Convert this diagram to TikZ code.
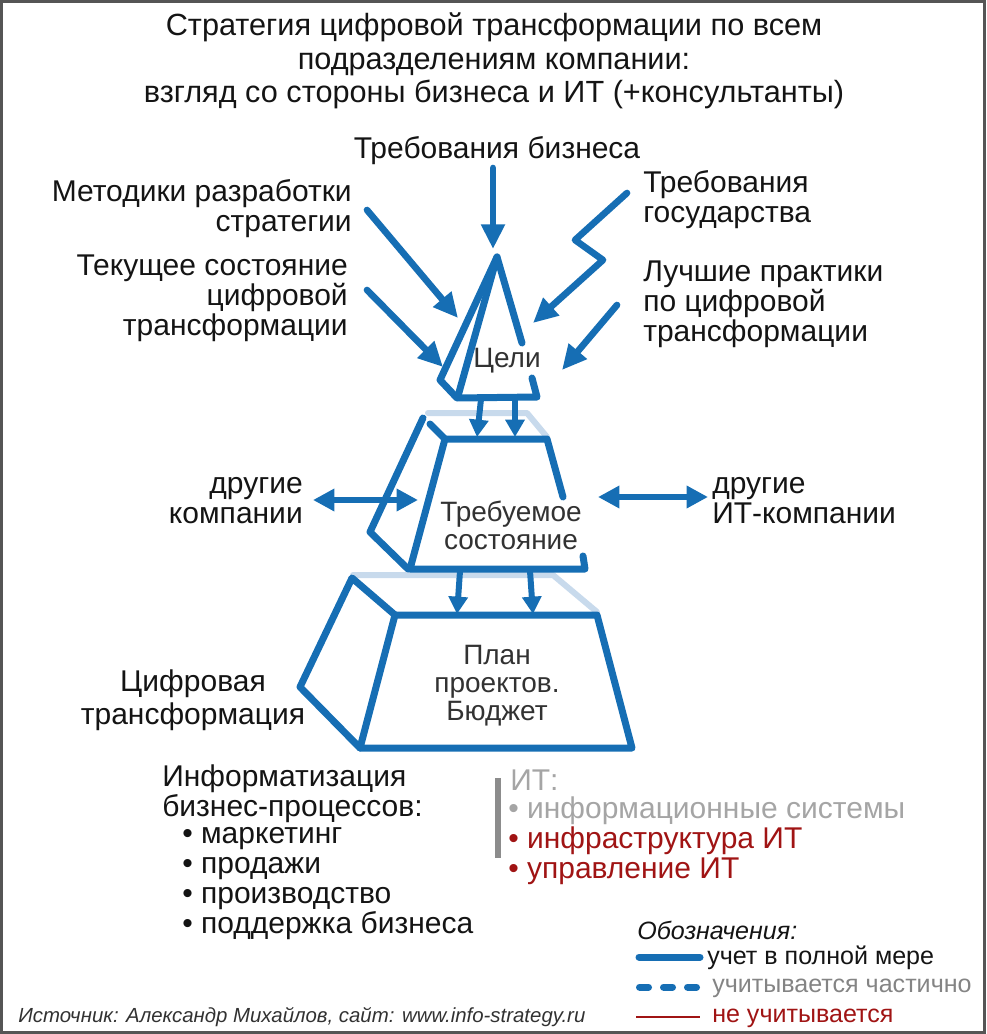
\documentclass[tikz,border=0pt]{standalone}
\usepackage{fontspec}
\setmainfont{Liberation Sans}
\usetikzlibrary{arrows.meta}
\definecolor{bl}{RGB}{22,110,180}
\definecolor{pale}{RGB}{200,218,236}
\definecolor{txt}{RGB}{20,20,20}
\definecolor{dg}{RGB}{50,50,50}
\definecolor{lg}{RGB}{165,165,165}
\definecolor{dred}{RGB}{160,20,20}
\definecolor{framec}{RGB}{85,85,85}
\definecolor{barc}{RGB}{140,140,140}
\tikzset{
  blk/.style={draw=bl, line width=5.25pt, line join=round, line cap=round},
  palel/.style={draw=pale, line width=4.5pt, line cap=round, line join=round},
  arr/.style={draw=bl, line width=5pt, line cap=round, line join=round, -{Triangle[length=18.5pt,width=17pt]}},
  sarr/.style={draw=bl, line width=4.5pt, line cap=round, -{Triangle[length=13pt,width=14pt]}},
  darr/.style={draw=bl, line width=4.5pt, {Triangle[length=16pt,width=16pt]}-{Triangle[length=16pt,width=16pt]}},
  lbl/.style={font=\fontsize{22.5}{22.5}\selectfont, text=txt, inner sep=0pt},
  inl/.style={font=\fontsize{21}{21}\selectfont, text=dg, inner sep=0pt, align=center},
  itl/.style={font=\fontsize{22.5}{22.5}\selectfont, inner sep=0pt, anchor=west},
  legt/.style={font=\fontsize{18.8}{20}\selectfont, inner sep=0pt, anchor=west}
}
\begin{document}
\begin{tikzpicture}[x=0.75pt,y=-0.75pt]
\useasboundingbox (0,0) rectangle (986,1034);
\draw[framec, line width=2.2pt] (1.5,1.5) rectangle (984.5,1032.5);

% title
\node[lbl, align=center, font=\fontsize{23}{25}\selectfont] (title) at (494,61)
  {Стратегия цифровой трансформации по всем\\подразделениям компании:\\взгляд со стороны бизнеса и ИТ (+консультанты)};

% labels around top
\node[lbl] (tbiz) at (497,151) {Требования бизнеса};
\node[lbl, align=right, anchor=east] (metod) at (352,209) {Методики разработки\\стратегии};
\node[lbl, align=right, anchor=east] (tek) at (348,298) {Текущее состояние\\цифровой\\трансформации};
\node[lbl, align=left, anchor=west] (gos) at (643,200) {Требования\\государства};
\node[lbl, align=left, anchor=west] (best) at (643,304) {Лучшие практики\\по цифровой\\трансформации};

% pale back edges
\draw[palel] (428,413) -- (527,413) -- (547,437);
\draw[palel] (353,575) -- (553,575) -- (597,612);

% Цели pyramid
\draw[blk] (522,343) -- (497,257) -- (440,380) -- (457,398) -- (537,397) -- (532,378);
\draw[blk] (497,257) -- (458,396);
\node[inl] (goals) at (507,361) {Цели};

% Требуемое состояние
\draw[blk] (563,497) -- (547,439) -- (445,439) -- (410,569) -- (585,569) -- (583,556);
\draw[blk] (423,418) -- (370,532) -- (408,569);
\draw[blk] (430,424) -- (445,439);
\node[inl] (req) at (511,525) {Требуемое\\состояние};

% План проектов
\draw[blk] (395,615) -- (597,615) -- (632,748) -- (360,748) -- cycle;
\draw[blk] (395,615) -- (352,578) -- (300,687) -- (360,748);
\node[inl] (plan) at (497,686) {План\\проектов.\\Бюджет};

% arrows into goals
\coordinate (a1s) at (493,168); \coordinate (a1e) at (493,249);
\draw[arr] (a1s) -- (a1e);
\coordinate (a2s) at (367,210); \coordinate (a2e) at (458,318);
\draw[arr] (a2s) -- (a2e);
\coordinate (a3s) at (367,290); \coordinate (a3e) at (443,367);
\draw[arr] (a3s) -- (a3e);
\coordinate (a4s) at (627,193); \coordinate (a4m) at (575,240); \coordinate (a4n) at (603,260); \coordinate (a4e) at (533,323);
\draw[arr] (a4s) -- (a4m) -- (a4n) -- (a4e);
\coordinate (a5s) at (617,305); \coordinate (a5e) at (562,370);
\draw[arr] (a5s) -- (a5e);

% goals -> req
\coordinate (b1s) at (481,399); \coordinate (b1e) at (477,437);
\coordinate (b2s) at (515,399); \coordinate (b2e) at (515,437);
\draw[sarr] (b1s) -- (b1e);
\draw[sarr] (b2s) -- (b2e);
% req -> plan
\coordinate (c1s) at (460,571); \coordinate (c1e) at (457,614);
\coordinate (c2s) at (530,571); \coordinate (c2e) at (533,614);
\draw[sarr] (c1s) -- (c1e);
\draw[sarr] (c2s) -- (c2e);

% side labels and double arrows
\node[lbl, align=right, anchor=east] (oth) at (303,501) {другие\\компании};
\node[lbl, align=left, anchor=west] (othit) at (712,501) {другие\\ИТ-компании};
\coordinate (dl1) at (313,500); \coordinate (dl2) at (418,500);
\draw[darr] (dl1) -- (dl2);
\coordinate (dr1) at (598,497); \coordinate (dr2) at (708,497);
\draw[darr] (dr1) -- (dr2);

\node[lbl, align=center, font=\fontsize{22.5}{24.5}\selectfont] (cifr) at (193,700) {Цифровая\\трансформация};

% informatization
\node[lbl, align=left, anchor=west] (inf) at (162,794) {Информатизация\\бизнес-процессов:};
\node[lbl, align=left, anchor=west] (infl) at (182,884) {• маркетинг\\• продажи\\• производство\\• поддержка бизнеса};

% IT block
\coordinate (bar1) at (498,778); \coordinate (bar2) at (498,858);
\draw[barc, line width=3.8pt] (bar1) -- (bar2);
\node[itl, text=lg] (it0) at (510,780) {ИТ:};
\node[itl, text=lg] (it1) at (508,811) {• информационные системы};
\node[itl, text=dred] (it2) at (508,841) {• инфраструктура ИТ};
\node[itl, text=dred] (it3) at (508,871) {• управление ИТ};

% legend
\node[legt, font=\itshape\fontsize{18.8}{20}\selectfont, text=txt] (legh) at (637,930) {Обозначения:};
\coordinate (l1a) at (639,957); \coordinate (l1b) at (700,957);
\draw[bl, line width=5.25pt, line cap=round] (l1a) -- (l1b);
\node[legt, text=txt] (leg1) at (707,958) {учет в полной мере};
\coordinate (l2a) at (639.5,987); \coordinate (l2b) at (697,987);
\draw[bl, line width=5.25pt, line cap=round, dash pattern=on 6.75pt off 11.25pt] (l2a) -- (l2b);
\node[legt, text=lg!80!black] (leg2) at (712,988) {учитывается частично};
\coordinate (l3a) at (636,1017); \coordinate (l3b) at (700,1017);
\draw[dred, line width=1.4pt] (l3a) -- (l3b);
\node[legt, text=dred] (leg3) at (712,1018) {не учитывается};

% source
\node[legt, font=\itshape\fontsize{15.3}{17}\selectfont, text=dg] (src) at (18,1017) {Источник: Александр Михайлов, сайт: www.info-strategy.ru};
\end{tikzpicture}
\end{document}
